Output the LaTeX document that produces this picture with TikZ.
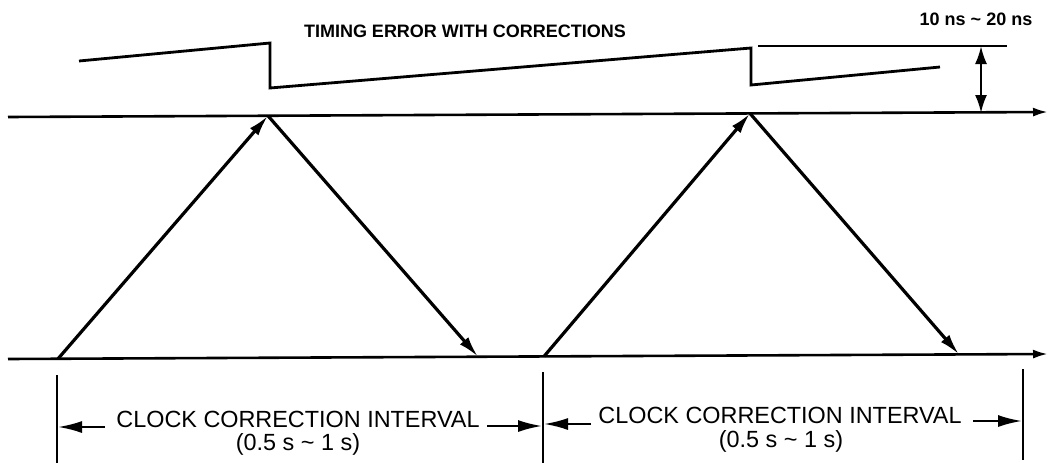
\documentclass[tikz,border=0pt]{standalone}
\usepackage{fontspec}
\setmainfont{Liberation Sans}
\usetikzlibrary{arrows.meta}
\begin{document}
\begin{tikzpicture}[x=1pt,y=-1pt,
  axisline/.style={line width=2.6pt,-{Latex[length=15pt,width=9pt]}},
  signal/.style={line width=3.2pt,-{Latex[length=21pt,width=11pt]}},
  saw/.style={line width=2.8pt,line join=miter},
  tickline/.style={line width=2.2pt},
  dimarrow/.style={line width=2.2pt,-{Latex[length=24pt,width=12pt]}},
  vdim/.style={line width=2.4pt,{Latex[length=18pt,width=12pt]}-{Latex[length=18pt,width=12pt]}},
  biglbl/.style={inner sep=0pt,anchor=base,font=\fontsize{23.4}{27}\selectfont},
  toplbl/.style={inner sep=0pt,anchor=base,font=\bfseries\fontsize{18}{21}\selectfont}]
\useasboundingbox (0,0) rectangle (1052,463);

% axes
\coordinate (tl) at (8,117);
\coordinate (tr) at (1048,112);
\coordinate (bl) at (8,359);
\coordinate (br) at (1048,354);
\draw[axisline] (tl) -- (tr);
\draw[axisline] (bl) -- (br);

% signal points
\coordinate (s1) at (58,358.8);
\coordinate (a1) at (268,115.8);
\coordinate (e1) at (478,356.7);
\coordinate (s2) at (544,356.4);
\coordinate (a2) at (750,113.4);
\coordinate (e2) at (959,354.4);
\draw[signal] (s1) -- (a1);
\draw[signal] (a1) -- (e1);
\draw[signal] (s2) -- (a2);
\draw[signal] (a2) -- (e2);

% timing error sawtooth
\draw[saw] (79,61) -- (270,43) -- (270,88) -- (751,48) -- (751,85) -- (940,67);
\coordinate (lim) at (758,46);
\coordinate (limr) at (1007,46);
\draw[saw] (lim) -- (limr);

% vertical dimension
\coordinate (vt) at (981,46);
\coordinate (vb) at (981,113);
\draw[vdim] (vt) -- (vb);

% labels
\node[toplbl] (title) at (465,37) {TIMING ERROR WITH CORRECTIONS};
\node[toplbl] (range) at (976,25) {10 ns \textasciitilde{} 20 ns};

% ticks
\coordinate (k1t) at (57,375);  \coordinate (k1b) at (57,463);
\coordinate (k2t) at (543,372); \coordinate (k2b) at (543,463);
\coordinate (k3t) at (1023,369);\coordinate (k3b) at (1023,460);
\draw[tickline] (k1t) -- (k1b);
\draw[tickline] (k2t) -- (k2b);
\draw[tickline] (k3t) -- (k3b);

% interval labels
\node[biglbl] (int1) at (298,427) {CLOCK CORRECTION INTERVAL};
\node[biglbl] (int1b) at (298,450) {(0.5 s \textasciitilde{} 1 s)};
\node[biglbl] (int2) at (780,423) {CLOCK CORRECTION INTERVAL};
\node[biglbl] (int2b) at (781,447) {(0.5 s \textasciitilde{} 1 s)};

% interval arrows
\coordinate (d1l) at (105,427); \coordinate (d1lt) at (58,427);
\coordinate (d1r) at (487,426); \coordinate (d1rt) at (542,426);
\coordinate (d2l) at (591,424); \coordinate (d2lt) at (544,424);
\coordinate (d2r) at (973,421); \coordinate (d2rt) at (1022,421);
\draw[dimarrow] (d1l) -- (d1lt);
\draw[dimarrow] (d1r) -- (d1rt);
\draw[dimarrow] (d2l) -- (d2lt);
\draw[dimarrow] (d2r) -- (d2rt);
\end{tikzpicture}
\end{document}
